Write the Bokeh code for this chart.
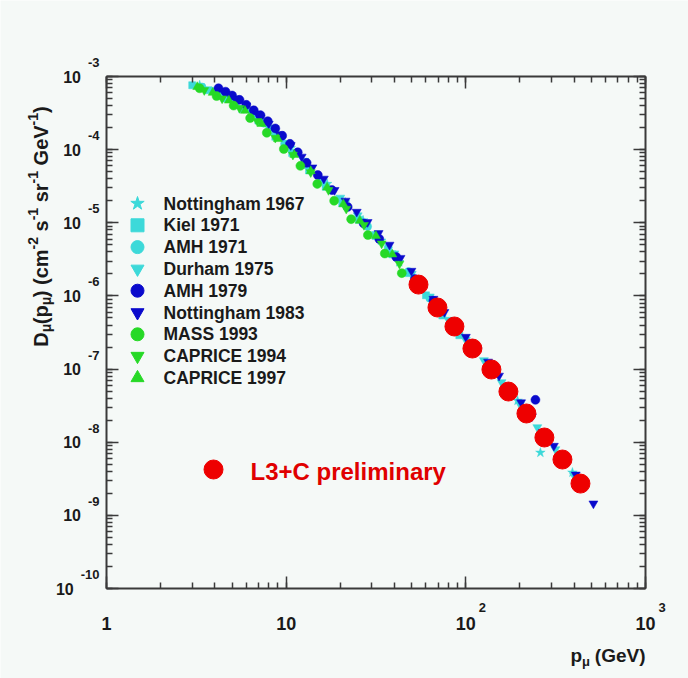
import math
from bokeh.plotting import figure
from bokeh.models import Range1d, LinearScale, LogAxis, LogTicker, Label, CustomJSTickFormatter
from bokeh.embed import file_html
from bokeh.resources import INLINE

# ---------------- data: vertical muon momentum spectrum ----------------
notts67_p = [3.3, 4.2, 5.3, 6.7, 8.5, 10.6, 13.4, 16.9, 21.3, 26.8, 33.8, 42.6, 53.7, 67.6, 85.1, 107, 135, 170, 194, 260, 392]
notts67_d = [7.6e-4, 5.8e-4, 4.4e-4, 3.0e-4, 1.8e-4, 1.05e-4, 5.6e-5, 3.4e-5, 1.9e-5, 1.08e-5, 5.7e-6, 2.9e-6, 1.45e-6, 7.0e-7, 3.6e-7, 1.8e-7, 1.0e-7, 5.0e-8, 3.7e-8, 7.2e-9, 3.85e-9]

kiel71_p = [3.0, 3.7, 4.6, 5.7, 7.0, 8.7, 10.8, 13.4, 16.6, 20.5, 25.4, 31.5, 39, 48, 60, 74, 92]
kiel71_d = [7.6e-4, 6.5e-4, 5.0e-4, 3.6e-4, 2.5e-4, 1.5e-4, 9.0e-5, 5.2e-5, 3.1e-5, 1.85e-5, 1.1e-5, 6.6e-6, 3.7e-6, 2.05e-6, 1.02e-6, 5.4e-7, 2.9e-7]

amh71_p = [3.4, 4.4, 5.8, 7.5, 9.8, 12.8, 16.7, 21.8, 28.4, 37, 48, 63, 82, 107, 140]
amh71_d = [7.2e-4, 5.5e-4, 3.6e-4, 2.3e-4, 1.2e-4, 6.2e-5, 3.2e-5, 1.65e-5, 8.9e-6, 4.6e-6, 2.15e-6, 9.3e-7, 4.2e-7, 2.0e-7, 9.3e-8]

durham75_p = [4.0, 5.0, 6.3, 8.0, 10, 12.6, 15.8, 20, 25, 31.6, 40, 50, 63, 80, 100, 126, 158, 200, 250, 315, 400]
durham75_d = [6.5e-4, 4.9e-4, 3.4e-4, 2.0e-4, 1.2e-4, 7.0e-5, 3.9e-5, 2.2e-5, 1.26e-5, 7.0e-6, 3.8e-6, 2.0e-6, 9.8e-7, 4.7e-7, 2.5e-7, 1.32e-7, 6.6e-8, 3.3e-8, 1.6e-8, 8.0e-9, 3.5e-9]

amh79_p = [4.2, 4.6, 5.0, 5.5, 6.0, 6.6, 7.2, 7.9, 8.7, 9.5, 10.5, 11.6, 13, 15, 18, 22, 27, 33, 41, 52, 66, 84, 108, 140, 244]
amh79_d = [6.9e-4, 6.2e-4, 5.5e-4, 4.8e-4, 4.1e-4, 3.45e-4, 2.95e-4, 2.45e-4, 1.95e-4, 1.55e-4, 1.2e-4, 9.2e-5, 6.6e-5, 4.5e-5, 2.8e-5, 1.65e-5, 9.8e-6, 6.0e-6, 3.4e-6, 1.7e-6, 8.6e-7, 4.3e-7, 2.2e-7, 1.05e-7, 3.8e-8]

notts83_p = [4.5, 5.2, 6.0, 6.9, 8.0, 9.2, 10.6, 12.2, 14, 16.2, 18.6, 21.4, 24.7, 28.4, 32.7, 37.6, 43.3, 49.8, 57.3, 66, 76, 87, 100, 116, 133, 153, 176, 203, 233, 268, 309, 355, 409, 513]
notts83_d = [6.2e-4, 5.0e-4, 4.0e-4, 3.1e-4, 2.25e-4, 1.62e-4, 1.15e-4, 8.0e-5, 5.7e-5, 4.0e-5, 2.8e-5, 2.0e-5, 1.41e-5, 1.02e-5, 7.2e-6, 5.0e-6, 3.3e-6, 2.2e-6, 1.41e-6, 9.1e-7, 6.0e-7, 4.1e-7, 2.75e-7, 1.82e-7, 1.26e-7, 8.1e-8, 5.2e-8, 3.5e-8, 2.24e-8, 1.38e-8, 8.9e-9, 5.6e-9, 3.6e-9, 1.45e-9]

mass93_p = [3.3, 4.1, 5.1, 6.3, 7.8, 9.7, 12, 14.9, 18.5, 23, 28.5, 35.4, 44]
mass93_d = [6.9e-4, 5.4e-4, 4.0e-4, 2.7e-4, 1.7e-4, 1.02e-4, 6.0e-5, 3.4e-5, 2.0e-5, 1.12e-5, 6.8e-6, 3.8e-6, 2.05e-6]

caprice94_p = [3.5, 4.4, 5.5, 6.9, 8.7, 10.9, 13.7, 17.2, 21.6, 27.1, 34, 42.7, 53.6, 67.3, 84.5, 106]
caprice94_d = [6.5e-4, 5.0e-4, 3.7e-4, 2.45e-4, 1.45e-4, 8.5e-5, 4.9e-5, 2.8e-5, 1.55e-5, 9.3e-6, 5.2e-6, 2.75e-6, 1.38e-6, 6.9e-7, 3.5e-7, 1.86e-7]

caprice97_p = [3.2, 3.9, 4.8, 5.9, 7.3, 9.0, 11.1, 13.7, 16.9, 20.8, 25.7, 31.6, 39]
caprice97_d = [7.2e-4, 6.0e-4, 4.7e-4, 3.4e-4, 2.25e-4, 1.4e-4, 8.5e-5, 5.1e-5, 3.05e-5, 1.8e-5, 1.07e-5, 6.6e-6, 3.7e-6]

l3c_p = [54.5, 69.5, 86.4, 108.8, 138.8, 172.6, 217.4, 273.7, 344.9, 434.5]
l3c_d = [1.43e-6, 6.95e-7, 3.82e-7, 1.91e-7, 9.86e-8, 4.93e-8, 2.47e-8, 1.16e-8, 5.8e-9, 2.72e-9]

legend_labels = ["Nottingham 1967", "Kiel 1971", "AMH 1971", "Durham 1975", "AMH 1979",
                 "Nottingham 1983", "MASS 1993", "CAPRICE 1994", "CAPRICE 1997"]
l3c_label = "L3+C preliminary"

x_ticks = [1, 10, 100, 1000]
y_ticks = [1e-3, 1e-4, 1e-5, 1e-6, 1e-7, 1e-8, 1e-9, 1e-10]
x_lim = (1, 1000)
y_lim = (1e-10, 1e-3)

# ---------------- styling ----------------
CYAN, BLUE, GREEN, RED = "#3cd9d9", "#0a0acc", "#26d926", "#ee0000"
INK = "#1a1a1a"
BG = "#f5f9f7"
FONT = "Liberation Sans"

series = [
    (notts67_p, notts67_d, "star", CYAN, 10),
    (kiel71_p, kiel71_d, "square", CYAN, 7),
    (amh71_p, amh71_d, "circle", CYAN, 8),
    (durham75_p, durham75_d, "inverted_triangle", CYAN, 9),
    (amh79_p, amh79_d, "circle", BLUE, 9),
    (notts83_p, notts83_d, "inverted_triangle", BLUE, 9),
    (mass93_p, mass93_d, "circle", GREEN, 9),
    (caprice94_p, caprice94_d, "inverted_triangle", GREEN, 9),
    (caprice97_p, caprice97_d, "triangle", GREEN, 9),
]

# canvas and the box that holds the axes (pixels from the top-left corner)
W, H = 688, 678
BOX_L, BOX_R, BOX_T, BOX_B = 106, 645, 76, 588
dec_x = (BOX_R - BOX_L) / math.log10(x_lim[1] / x_lim[0])
dec_y = (BOX_B - BOX_T) / math.log10(y_lim[1] / y_lim[0])

# the plotting frame covers the whole canvas; the axes sit on the box edges
xr = Range1d(x_lim[0] * 10 ** (-BOX_L / dec_x), x_lim[1] * 10 ** ((W - BOX_R) / dec_x))
yr = Range1d(y_lim[0] * 10 ** (-(H - BOX_B) / dec_y), y_lim[1] * 10 ** (BOX_T / dec_y))

p = figure(width=W, height=H, x_axis_type="log", y_axis_type="log",
           x_range=xr, y_range=yr, output_backend="svg", toolbar_location=None,
           min_border=0, background_fill_color=BG, border_fill_color=BG,
           outline_line_color=None)
p.grid.visible = False

# pixel coordinate system for text and legend placement (origin bottom-left)
p.extra_x_ranges = {"px": Range1d(0, W)}
p.extra_y_ranges = {"px": Range1d(0, H)}
p.extra_x_scales = {"px": LinearScale()}
p.extra_y_scales = {"px": LinearScale()}


def py(yc):
    return H - yc


def style_axis(ax, loc, bounds):
    ax.ticker = LogTicker(num_minor_ticks=10)
    ax.formatter = CustomJSTickFormatter(code="return ''")
    ax.fixed_location = loc
    ax.bounds = bounds
    ax.major_tick_in = 12
    ax.major_tick_out = 0
    ax.minor_tick_in = 6
    ax.minor_tick_out = 0
    ax.axis_line_color = "#3a3a3a"
    ax.axis_line_width = 2
    ax.major_tick_line_color = "#3a3a3a"
    ax.major_tick_line_width = 1.5
    ax.minor_tick_line_color = "#3a3a3a"
    ax.minor_tick_line_width = 1.5
    ax.major_label_standoff = 0
    ax.major_label_text_font_size = "1px"
    ax.axis_label = None


style_axis(p.xaxis[0], y_lim[0], x_lim)
style_axis(p.yaxis[0], x_lim[0], y_lim)
top_ax = LogAxis()
right_ax = LogAxis()
style_axis(top_ax, y_lim[1], x_lim)
style_axis(right_ax, x_lim[1], y_lim)
p.add_layout(top_ax, "above")
p.add_layout(right_ax, "right")

# data points
for xs, ys, marker, color, size in series:
    p.scatter(xs, ys, marker=marker, size=size, fill_color=color, line_color=color, line_width=0.5)
p.scatter(l3c_p, l3c_d, marker="circle", size=19, fill_color=RED, line_color=RED)

# ---------------- text helpers ----------------
AB = {" ": 278, "(": 333, ")": 333, "-": 333, "+": 584, ".": 278,
      "0": 556, "1": 556, "2": 556, "3": 556, "4": 556, "5": 556, "6": 556, "7": 556, "8": 556, "9": 556,
      "A": 722, "C": 722, "D": 722, "E": 667, "G": 778, "H": 722, "I": 278, "K": 722, "L": 611,
      "M": 833, "N": 722, "P": 667, "R": 722, "S": 667, "V": 667,
      "a": 556, "c": 556, "e": 556, "g": 611, "h": 611, "i": 278, "l": 278, "m": 889, "n": 611,
      "o": 611, "p": 611, "r": 389, "s": 556, "t": 333, "y": 556, "μ": 576}


def tw(s, size):
    return sum(AB.get(ch, 556) for ch in s) * size / 1000.0


def label(x, y, text, size, align="left", baseline="middle", color=INK, angle=0.0, **kw):
    p.add_layout(Label(x=x, y=y, text=text, text_font=FONT, text_font_style="bold",
                       text_font_size=f"{size}px", text_color=color, text_align=align,
                       text_baseline=baseline, angle=angle, **kw))


def runs_horizontal(x, yc, runs):
    """Lay out (text, size, raise) runs left to right from canvas point (x, yc)."""
    for t, s, rise in runs:
        lead = len(t) - len(t.lstrip(" "))
        x += lead * tw(" ", s)
        label(x, py(yc) + rise, t.strip(" "), s, x_range_name="px", y_range_name="px")
        x += tw(t.strip(" "), s)


def runs_vertical(xc, yc_start, runs):
    """Lay out runs bottom to top, rotated by 90 degrees."""
    y = py(yc_start)
    for t, s, rise in runs:
        lead = len(t) - len(t.lstrip(" "))
        y += lead * tw(" ", s)
        label(xc - rise, y, t.strip(" "), s, angle=math.pi / 2, x_range_name="px", y_range_name="px")
        y += tw(t.strip(" "), s)


def runs_width(runs):
    return sum(tw(t, s) for t, s, _ in runs)


# y tick labels: "10" with raised exponent, anchored on the left box edge
for v in y_ticks:
    e = str(int(round(math.log10(v))))
    label(x_lim[0], v, e, 13, align="right", x_offset=-7, y_offset=14)
    label(x_lim[0], v, "10", 16, align="right", x_offset=-7 - tw(e, 13) - 7)

# x tick labels, anchored on the bottom box edge
for v in x_ticks:
    k = int(round(math.log10(v)))
    txt = "1" if k == 0 else "10"
    label(v, y_lim[0], txt, 18, align="center", y_offset=-35)
    if k >= 2:
        label(v, y_lim[0], str(k), 13, align="left", x_offset=tw("10", 18) / 2 + 3, y_offset=-19)

# x axis title: p_mu (GeV), right-aligned to the box
F, f = 19, 13
x_title = [("p", F, 0), ("μ", f, -6), (" (GeV)", F, 0)]
runs_horizontal(BOX_R - runs_width(x_title), 655, x_title)

# y axis title, rotated, with sub/superscripts
F, f = 20, 14
y_title = [("D", F, 0), ("μ", f, -5), ("(p", F, 0), ("μ", f, -5), (")", F, 0), (" (cm", F, 0),
           ("-2", f, 8), (" s", F, 0), ("-1", f, 8), (" sr", F, 0), ("-1", f, 8), (" GeV", F, 0),
           ("-1", f, 8), (")", F, 0)]
runs_vertical(40, 226 + runs_width(y_title) / 2, y_title)

# legend for the compilation
row0, pitch = py(203), 21.8
for i, ((xs, ys, marker, color, size), name) in enumerate(zip(series, legend_labels)):
    yy = row0 - i * pitch
    p.scatter([137], [yy], marker=marker, size=13 if marker != "star" else 14,
              fill_color=color, line_color=color, x_range_name="px", y_range_name="px")
    label(163, yy, name, 17.5, x_range_name="px", y_range_name="px")

# L3+C entry
p.scatter([213], [py(469)], marker="circle", size=19, fill_color=RED, line_color=RED,
          x_range_name="px", y_range_name="px")
label(250, py(471), l3c_label, 24, color="#e00000", x_range_name="px", y_range_name="px")

open("out.html", "w").write(file_html(p, INLINE))
